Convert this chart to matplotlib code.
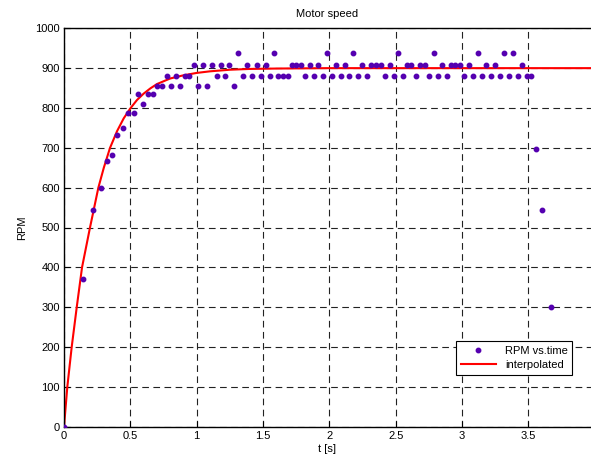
# Imports
import matplotlib
matplotlib.use('Agg')
import matplotlib.pyplot as plt

# Measured samples (time in s, speed in RPM)
time_s = [0.0, 0.146, 0.221, 0.276, 0.322, 0.364, 0.402, 0.442, 0.485, 0.525,
          0.555, 0.593, 0.633, 0.671, 0.698, 0.736, 0.774, 0.806, 0.844, 0.874,
          0.912, 0.944, 0.982, 1.007, 1.050, 1.078, 1.118, 1.151, 1.181, 1.216,
          1.246, 1.284, 1.314, 1.351, 1.381, 1.415, 1.452, 1.482, 1.522, 1.552,
          1.582, 1.615, 1.648, 1.686, 1.716, 1.748, 1.786, 1.816, 1.854, 1.886,
          1.916, 1.954, 1.984, 2.020, 2.052, 2.085, 2.120, 2.150, 2.180, 2.218,
          2.248, 2.285, 2.315, 2.348, 2.386, 2.417, 2.454, 2.487, 2.515, 2.552,
          2.583, 2.615, 2.652, 2.683, 2.720, 2.750, 2.788, 2.818, 2.851, 2.886,
          2.919, 2.949, 2.986, 3.016, 3.054, 3.084, 3.117, 3.152, 3.182, 3.220,
          3.250, 3.283, 3.318, 3.351, 3.381, 3.419, 3.449, 3.487, 3.519, 3.555,
          3.600, 3.668]
rpm = [0, 370, 545, 600, 667, 681, 732, 749, 788, 788,
       834, 811, 834, 834, 856, 856, 881, 856, 881, 856,
       881, 881, 909, 856, 909, 856, 909, 881, 909, 881,
       909, 856, 937, 881, 909, 881, 909, 881, 909, 881,
       937, 881, 881, 881, 909, 909, 909, 881, 909, 881,
       909, 881, 937, 881, 909, 881, 909, 881, 937, 881,
       909, 881, 909, 909, 909, 881, 909, 881, 937, 881,
       909, 909, 881, 909, 909, 881, 937, 881, 909, 881,
       909, 909, 909, 881, 909, 881, 937, 881, 909, 881,
       909, 881, 937, 881, 937, 881, 909, 881, 881, 696,
       545, 301]

# Interpolated curve
curve_t = [0.0, 0.025, 0.058, 0.096, 0.136, 0.196, 0.259, 0.300, 0.347, 0.400,
           0.450, 0.500, 0.550, 0.600, 0.650, 0.700, 0.800, 0.900, 1.0, 1.1,
           1.25, 1.4, 1.6, 2.0, 2.5, 4.0]
curve_rpm = [0, 100, 200, 300, 400, 500, 600, 650, 700, 742,
             774, 799, 820, 836, 849, 860, 874, 882, 888, 892,
             896, 898, 899, 900, 900, 900]

x_ticks = [0, 0.5, 1, 1.5, 2, 2.5, 3, 3.5]
x_tick_labels = ['0', '0.5', '1', '1.5', '2', '2.5', '3', '3.5']
y_ticks = list(range(0, 1001, 100))

plt.rcParams['font.family'] = ['Liberation Sans', 'DejaVu Sans']
plt.rcParams['font.size'] = 8

# Create the figure and the axes (MATLAB-like layout)
fig = plt.figure(figsize=(5.91, 4.63), dpi=100)
ax = fig.add_axes([64 / 591, 1 - 426.7 / 463, 1 - 64 / 591, (426.7 - 28.3) / 463])

# Data points and fitted curve
ax.plot(time_s, rpm, linestyle='none', marker='o', markersize=3.2,
        color='#5500b0', label='RPM vs.time', zorder=3)
ax.plot(curve_t, curve_rpm, color='#ff0000', linewidth=1.5,
        label='interpolated', zorder=2)

# Axes limits and ticks
ax.set_xlim(0, (591 - 64) / 132.7)
ax.set_ylim(0, 1000)
ax.set_xticks(x_ticks)
ax.set_xticklabels(x_tick_labels)
ax.set_yticks(y_ticks)
ax.tick_params(direction='in', length=4, width=0.8, colors='black', pad=3)

# Dashed grid
ax.grid(True, color='#222222', linestyle=(0, (6, 4)), linewidth=0.8)
ax.set_axisbelow(True)

# Spines
for side in ['left', 'bottom', 'top']:
    ax.spines[side].set_linewidth(1.0)
    ax.spines[side].set_color('black')
ax.spines['right'].set_visible(False)

# Labels and title
ax.set_title('Motor speed', fontsize=8, pad=8)
ax.set_xlabel('t [s]', fontsize=8, labelpad=2)
ax.set_ylabel('RPM', fontsize=8, labelpad=6)

# Legend
leg = ax.legend(loc='lower right', bbox_to_anchor=(0.975, 0.117), fontsize=8,
                fancybox=False, framealpha=1, edgecolor='black',
                handlelength=3.2, borderpad=0.4, labelspacing=0.4)
leg.get_frame().set_linewidth(0.8)

fig.savefig('out.png', dpi=100)
